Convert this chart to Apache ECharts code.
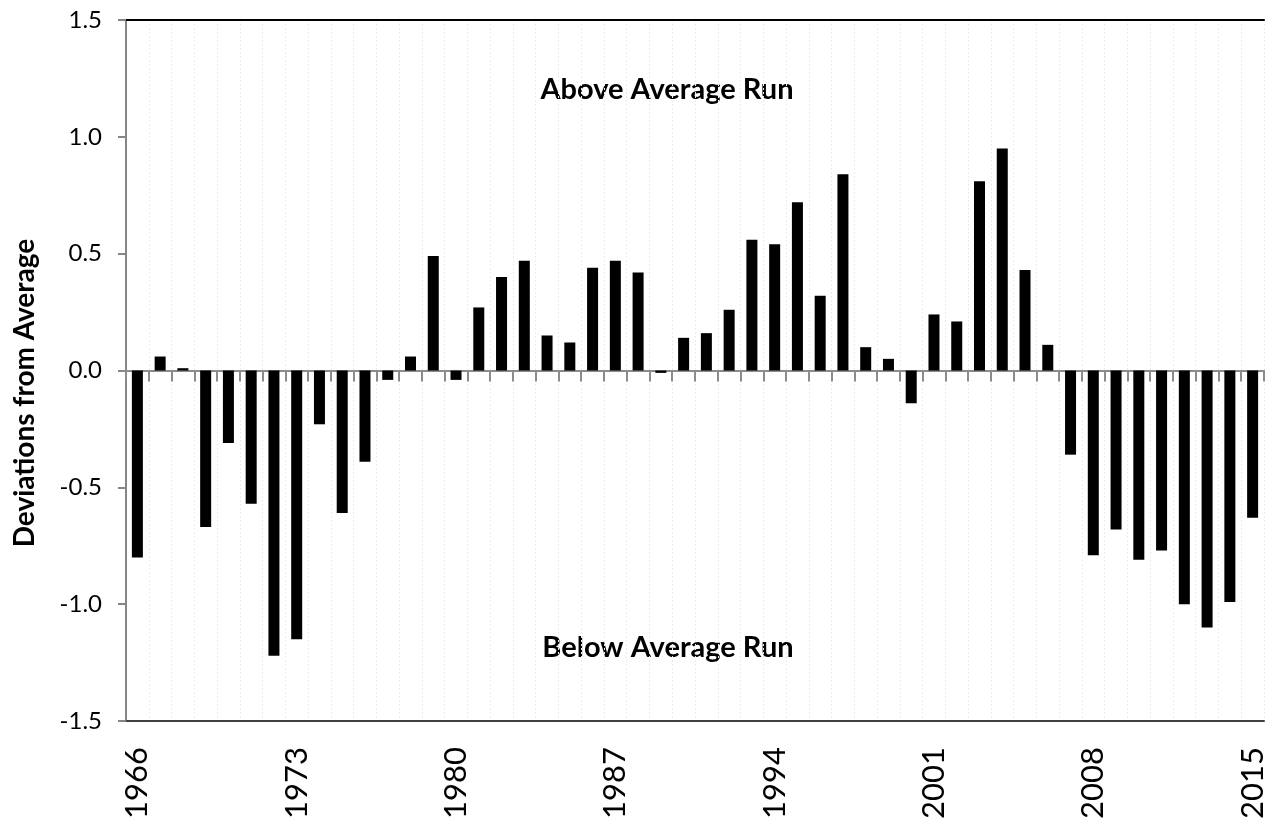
<!DOCTYPE html>
<html>
<head>
<meta charset="utf-8">
<script src="https://cdn.jsdelivr.net/npm/echarts@6/dist/echarts.min.js"></script>
<style>html,body{margin:0;padding:0;background:#fff;}#c{width:1270px;height:822px;}</style>
</head>
<body>
<div id="c"></div>
<script>
const years = [];
for (let y = 1966; y <= 2015; y++) years.push(String(y));
const deviations = [
  -0.80, 0.06, 0.01, -0.67, -0.31, -0.57, -1.22, -1.15, -0.23, -0.61,
  -0.39, -0.04, 0.06, 0.49, -0.04, 0.27, 0.40, 0.47, 0.15, 0.12,
  0.44, 0.47, 0.42, -0.01, 0.14, 0.16, 0.26, 0.56, 0.54, 0.72,
  0.32, 0.84, 0.10, 0.05, -0.14, 0.24, 0.21, 0.81, 0.95, 0.43,
  0.11, -0.36, -0.79, -0.68, -0.81, -0.77, -1.00, -1.10, -0.99, -0.63
];
const yTicks = { min: -1.5, max: 1.5, interval: 0.5 };
const yTitle = 'Deviations from Average';
const aboveText = 'Above Average Run';
const belowText = 'Below Average Run';

const chart = echarts.init(document.getElementById('c'), null, { renderer: 'canvas' });
const FONT = 'Lato';
chart.setOption({
  animation: false,
  backgroundColor: '#ffffff',
  grid: { left: 126, top: 20, right: 6, bottom: 100 },
  xAxis: [
    {
      type: 'category', data: years, position: 'bottom',
      axisLine: { onZero: false, lineStyle: { color: '#404040', width: 2 } },
      axisTick: { show: false },
      axisLabel: {
        interval: 6, rotate: 90, margin: 26,
        fontFamily: FONT, fontSize: 31, color: '#000'
      },
      splitLine: { show: true, interval: 0, lineStyle: { color: '#ececec', type: [2, 2], width: 1 } }
    },
    {
      type: 'category', data: years, position: 'bottom',
      axisLine: { onZero: true, lineStyle: { color: '#8c8c8c', width: 2 } },
      axisTick: { show: true, inside: false, length: 11, interval: 0, lineStyle: { color: '#8c8c8c', width: 2 } },
      axisLabel: { show: false },
      splitLine: { show: false }
    },
    {
      type: 'category', data: years, position: 'top',
      axisLine: { onZero: false, lineStyle: { color: '#000', width: 2 } },
      axisTick: { show: false },
      axisLabel: { show: false },
      splitLine: { show: false }
    }
  ],
  yAxis: {
    type: 'value', min: yTicks.min, max: yTicks.max, interval: yTicks.interval,
    axisLine: { show: true, lineStyle: { color: '#868686', width: 2 } },
    axisTick: { show: true, length: 8, lineStyle: { color: '#868686', width: 2 } },
    axisLabel: {
      margin: 24, fontFamily: FONT, fontSize: 24, color: '#000',
      formatter: v => v.toFixed(1)
    },
    splitLine: { show: false }
  },
  series: [{
    type: 'bar', xAxisIndex: 0, data: deviations, barWidth: 11,
    itemStyle: { color: '#000' }
  }],
  graphic: [
    {
      type: 'text', x: 25, y: 393, rotation: Math.PI / 2,
      style: { text: yTitle, font: 'bold 28px ' + FONT, fill: '#000', align: 'center', verticalAlign: 'middle' }
    },
    {
      type: 'text', x: 667, y: 90,
      style: { text: aboveText, font: 'bold 29px ' + FONT, fill: '#000', align: 'center', verticalAlign: 'middle' }
    },
    {
      type: 'text', x: 668, y: 648,
      style: { text: belowText, font: 'bold 29px ' + FONT, fill: '#000', align: 'center', verticalAlign: 'middle' }
    }
  ]
});
</script>
</body>
</html>
